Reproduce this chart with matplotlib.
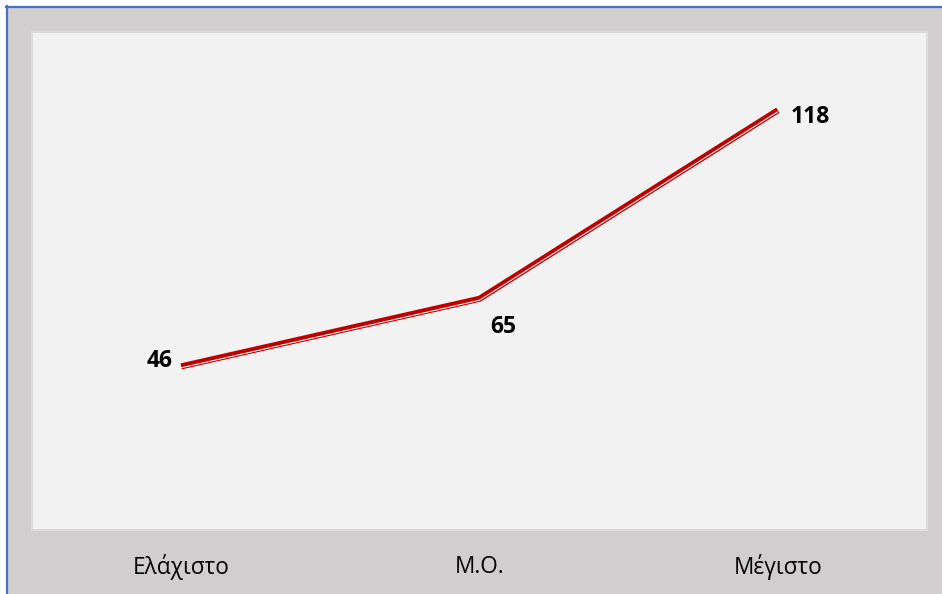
import matplotlib.pyplot as plt
import matplotlib.patheffects as pe
from matplotlib.patches import Rectangle
from matplotlib.lines import Line2D

categories = ['Ελάχιστο', 'Μ.Ο.', 'Μέγιστο']
values = [46, 65, 118]

W, H = 942, 594
fig = plt.figure(figsize=(W / 100, H / 100), dpi=100, facecolor='white')

# gray chart background with blue frame on left/top
fig.patches.append(Rectangle((8 / W, 0), 1, 1 - 8 / H, transform=fig.transFigure,
                             facecolor='#D0CECE', edgecolor='none', zorder=-10))
fig.lines.append(Line2D([7 / W, 7 / W], [0, 1 - 6 / H], transform=fig.transFigure,
                        color='#4472C4', lw=1.6))
fig.lines.append(Line2D([6 / W, 1], [1 - 7 / H, 1 - 7 / H], transform=fig.transFigure,
                        color='#4472C4', lw=1.6))

ax = fig.add_axes([32 / W, (H - 530) / H, 895 / W, 498 / H])
ax.set_zorder(1)
ax.set_facecolor('#F2F2F2')
for s in ax.spines.values():
    s.set_color('#DCDCDC')
    s.set_linewidth(1.5)

# thick-thin double line
x = list(range(len(categories)))
ax.plot(x, values, color='#C00000', lw=0, solid_capstyle='butt',
        path_effects=[pe.Stroke(linewidth=4.4, foreground='#C00000'),
                      pe.Stroke(linewidth=0.75, foreground='white', offset=(0, -1.05))])

ax.set_xlim(-0.5, 2.5)
ax.set_ylim(0, 140)
ax.set_yticks([])
ax.set_xticks([])

lbl = dict(fontsize=16.5, fontweight='bold', family='Open Sans', color='black')
ax.annotate(str(values[0]), (0, values[0]), xytext=(-6, 4), textcoords='offset points',
            ha='right', va='center', **lbl)
ax.annotate(str(values[1]), (1, values[1]), xytext=(17, -20), textcoords='offset points',
            ha='center', va='center', **lbl)
ax.annotate(str(values[2]), (2, values[2]), xytext=(9, -5), textcoords='offset points',
            ha='left', va='center', **lbl)

for xi, c in zip(x, categories):
    fig.text((32 + (xi + 0.5) * 895 / 3) / W, 1 - 567 / H, c, ha='center', va='center',
             fontsize=16.3, family='Open Sans', color='black')

fig.savefig('out.png', dpi=100, facecolor=fig.get_facecolor())
